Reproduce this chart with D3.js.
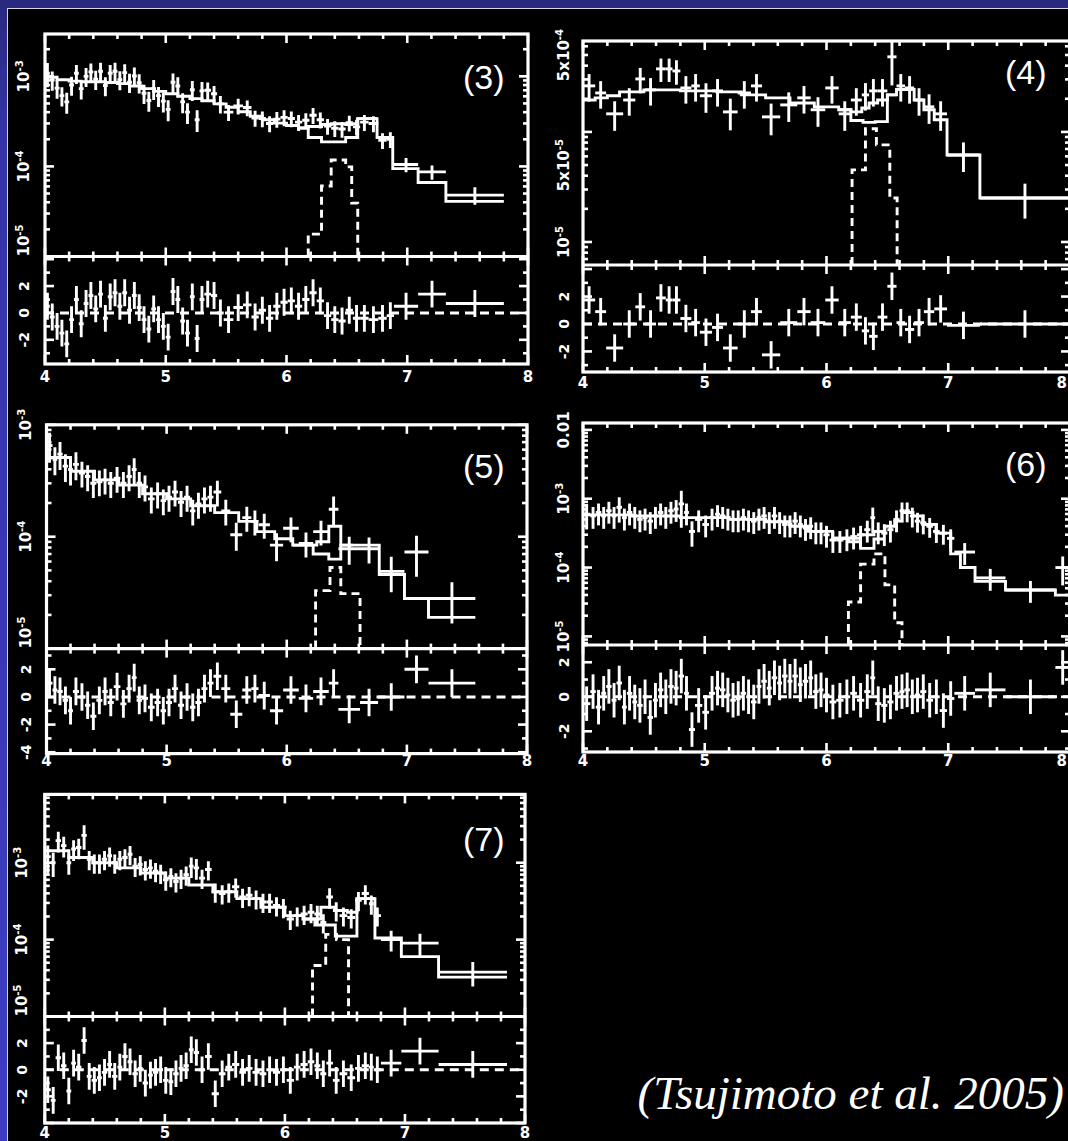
<!DOCTYPE html>
<html>
<head>
<meta charset="utf-8">
<script src="https://cdn.jsdelivr.net/npm/d3@7"></script>
<style>
  body { margin: 0; background: #000; }
  svg { display: block; }
</style>
</head>
<body>
<div id="plot_div"></div>
<script>
// fluxes in units of 1e-4 (counts/s/keV), energies in keV

// ---------- panel (3) ----------
const p3_edges = [4.00,4.04,4.08,4.12,4.16,4.20,4.24,4.28,4.32,4.36,4.40,4.44,4.48,4.52,4.56,4.60,4.64,4.68,4.72,4.76,4.80,4.84,4.88,4.92,4.96,5.00,5.04,5.08,5.12,5.16,5.20,5.24,5.28,5.32,
  5.375,5.425,5.48,5.56,5.64,5.71,5.77,5.83,5.89,5.95,6.01,6.07,6.13,6.19,6.25,6.31,6.37,6.43,6.49,6.55,6.61,6.68,6.76,6.83,6.89,7.09,7.32,7.80]
const p3_flux = [10.8,9.1,7.4,6.1,5.2,8.0,10.8,7.3,10.0,11.2, 9.3,11.4,7.9,10.8,11.4,9.2,11.0,8.6,10.1,8.5,
  6.5,5.4,7.3,6.1,5.3,4.3,8.6,7.8,5.2,4.0, 7.1,3.3,6.9, 7.0,6.4,4.95,4.0,4.7,4.5,3.45,3.4,3.0,3.35,
  3.5,3.4,3.1,3.25,3.7,3.3,2.8,2.65,2.6,3.05, 2.75,3.1,3.0,1.95,2.0,1.05,0.87,0.48]
const p3_err = [30,24,24,24,26,24,24,24,24,24, 24,24,24,24,24,24,24,24,24,24, 24,25,25,25,25,26,25,25,25,26,
  25,27,25, 22,22,22,20,20,20,20,20,20,20, 20,20,20,20,20,20,20,20,20,20, 20,20,20,20,20,18,18,22]
const p3_resid = [0.5,-0.3,-1.0,-1.5,-2.3,-0.5,1.0,-0.8,0.7,1.3, 0.3,1.4,-0.4,1.2,1.5,0.5,1.5,0.2,1.3,0.4,
  -0.5,-1.2,0.3,-0.5,-1.0,-1.8,1.6,1.0,-0.6,-1.5, 1.2,-1.9,1.0, 1.4,1.3,0.0,-0.5,0.4,0.6,-0.3,0.2,-0.4,0.5,
  0.8,0.9,0.5,1.0,1.5,0.9,-0.2,-0.5,-0.6,0.2, -0.4,-0.4,-0.5,-0.4,-0.2,0.5,1.4,0.7]
const p3_mEdges = [4.0,4.1,4.2,4.3,4.4,4.5,4.6,4.7,4.8,4.9,5.0,5.1,5.2,5.3,5.4,5.5,5.6,5.7,5.8,5.9,6.0,6.1,6.18,6.29,6.37,6.49,6.54,6.59,6.75,6.88,7.09,7.32,7.80]
const p3_model = [9.75,9.16,8.85,8.7,8.7,8.55,8.3,7.82,7.3,6.8,6.4,6.01,5.65,5.35,4.95,4.53,4.04,3.61,3.30,3.02,2.84,2.67,2.77,2.92,2.97,2.92,2.97,3.39,2.09,0.945,0.664,0.409]
const p3_cEdges = [6.1,6.18,6.29,6.49,6.59,6.75]
const p3_cont = [2.67,2.09,1.87,2.09,3.39]
const p3_gEdges = [6.18,6.29,6.37,6.49,6.54,6.59]
const p3_gauss = [0.177,0.607,1.18,0.987,0.391]
const p3_yrange = [0.1, 29.5]
const p3_rrange = [-3.8, 4.2]
const p3_yticks = [10, 1, 0.1]
const p3_ylabels = ["10^-3", "10^-4", "10^-5"]
const p3_rticks = [-2, 0, 2]

// ---------- panel (4) ----------
const p4_edges = [4.0,4.10,4.19,4.33,4.43,4.51,4.60,4.68,4.735,4.80,4.89,4.96,5.06,5.15,5.27,5.38,5.47,5.62,5.76,5.87,5.99,6.10,6.20,6.29,6.35,6.42,6.50,6.575,6.645,6.72,6.80,6.885,6.99,7.26,8.0]
const p4_flux = [2.62,2.26,1.46,1.95,3.03,2.41,3.74,3.74,3.58,2.51, 2.62,2.13,2.36,1.52,2.26,2.62,1.37,1.76,2.04,1.59,
  2.51,1.46,1.95,2.17,2.36,2.36,4.81,2.62,2.51,1.95, 1.69,1.46,0.617,0.251]
const p4_err = [28,28,30,28,26,28,24,24,25,28, 28,30,28,32,28,28,32,30,28,30, 28,30,28,28,28,28,45,28,28,28, 30,30,30,35]
const p4_resid = [1.75,0.9,-1.75,0,1.25,0,1.9,1.75,1.75,0.4, 0.1,-0.6,-0.25,-1.75,0,0.9,-2.25,0.1,0.9,0.1,
  1.75,0.1,0.5,-0.5,-0.9,0.5,2.75,0.1,-0.4,0.1, 0.9,1.1,-0.1,0]
const p4_mEdges = [4.0,4.1,4.2,4.3,4.5,4.8,5.1,5.3,5.5,5.7,5.9,6.1,6.2,6.29,6.35,6.42,6.50,6.575,6.72,6.80,6.885,6.99,7.26,8.0]
const p4_model = [1.95,2.04,2.13,2.31,2.41,2.36,2.31,2.17,2.04,1.83,1.69,1.59,1.52,1.65,1.83,1.95,2.17,2.43,1.95,1.59,1.29,0.617,0.251]
const p4_cEdges = [6.1,6.2,6.3,6.4,6.5,6.575]
const p4_cont = [1.59,1.27,1.22,1.24,2.17]
const p4_gEdges = [6.21,6.32,6.41,6.52,6.58]
const p4_gauss = [0.452,1.07,0.763,0.251]
const p4_yrange = [0.0618, 6.70]
const p4_rrange = [-3.5, 4.3]
const p4_yticks = [5, 0.5, 0.1]
const p4_ylabels = ["5x10^-4", "5x10^-5", "10^-5"]
const p4_rticks = [-2, 0, 2]

// ---------- panel (5) ----------
const p5_edges = [4.0,4.05,4.09,4.135,4.18,4.22,4.27,4.32,4.365,4.415,4.465,4.51,4.56,4.615,4.665,4.71,4.75,4.795,4.845,4.90,
  4.95,4.995,5.045,5.095,5.145,5.195,5.24,5.29,5.34,5.39,5.455,5.53,5.63,5.705,5.765,5.86,5.97,6.10,6.22,6.35,6.43,6.61,6.76,6.98,7.18,7.57]
const p5_flux = [6.54,4.92,5.47,4.27,3.98,4.43,3.71,3.45,3.00,3.10, 3.22,3.00,3.33,3.00,3.45,3.98,3.00,2.79,2.18,2.42,
  2.10,2.26,2.51,2.03,2.26,1.70,1.96,2.18,2.26,2.51, 1.70,1.04,1.48,1.37,1.28,0.84,1.19,0.87,1.11,1.76, 0.78,0.78,0.49,0.73,0.28]
const p5_err = [30,28,28,28,28,28,26,26,26,26, 26,26,26,26,26,26,26,26,26,26, 26,26,26,26,26,26,26,26,26,26,
  26,28,25,25,25,28,25,25,25,30, 28,26,35,40,40]
const p5_resid = [1.0,0.5,0.4,-0.25,-1.0,0.4,0,-0.6,-1.4,-0.25, 0.4,-0.4,0.75,-0.5,0.6,1.4,-0.25,-0.1,-0.75,-0.4,
  -1.0,-0.4,0.6,-0.6,0,-0.75,-0.4,0.6,1.0,1.5, 0.6,-1.25,0.5,0.6,0.1,-1.0,0.5,-0.1,0.4,1.0, -0.9,-0.4,0,2.0,1.0]
const p5_mEdges = [4.0,4.2,4.4,4.6,4.8,5.0,5.2,5.4,5.6,5.75,5.9,6.05,6.25,6.35,6.45,6.55,6.77,6.98,7.18,7.57]
const p5_model = [5.10,3.84,3.22,2.89,2.42,2.18,1.89,1.64,1.37,1.11,0.96,0.84,0.90,1.24,0.84,0.84,0.46,0.28,0.19]
const p5_cEdges = [6.05,6.22,6.35,6.45,6.55]
const p5_cont = [0.84,0.70,0.63,0.84]
const p5_gEdges = [6.24,6.36,6.45,6.61]
const p5_gauss = [0.33,0.53,0.31]
const p5_yrange = [0.1, 10]
const p5_rrange = [-4.1, 3.5]
const p5_yticks = [10, 1, 0.1]
const p5_ylabels = ["10^-3", "10^-4", "10^-5"]
const p5_rticks = [-4, -2, 0, 2]

// ---------- panel (6) ----------
const p6_edges = [4.0,4.06,4.105,4.15,4.19,4.235,4.275,4.32,4.36,4.405,4.445,4.49,4.53,4.575,4.615,4.66,4.70,4.745,4.785,4.83,
  4.87,4.92,4.98,5.035,5.085,5.125,5.17,5.21,5.255,5.295,5.34,5.38,5.425,5.465,5.51,5.55,5.595,5.635,5.68,5.72,
  5.765,5.805,5.85,5.89,5.935,5.975,6.025,6.08,6.14,6.195,6.25,6.31,6.36,6.40,6.45,6.50,6.55,6.60,6.64,6.685,
  6.725,6.77,6.82,6.875,6.93,6.99,7.05,7.22,7.47,7.88,8.0]
const p6_flux = [5.96,5.62,6.31,5.62,6.68,5.62,7.50,5.31,6.31,5.62, 5.01,5.31,4.73,5.62,6.31,5.62,6.68,7.08,8.41,6.31,
  3.35,5.01,4.22,5.31,5.96,5.62,5.31,5.01,5.01,5.31, 5.01,4.73,5.31,5.62,4.73,5.62,4.73,4.22,4.22,4.73,
  4.22,3.76,3.98,3.35,3.35,2.99,2.51,2.51,2.66,2.82, 2.99,3.55,5.31,3.35,3.16,3.55,5.01,6.68,6.68,5.62,
  4.73,4.47,3.98,3.35,3.16,2.66,1.68,0.708,0.473,1.0]
const p6_err = [40,35,35,35,35,35,40,35,35,35, 35,35,35,35,35,35,35,35,55,35, 40,35,35,35,35,35,35,35,35,35,
  35,35,35,35,35,35,35,35,35,35, 35,35,35,35,35,35,35,35,35,35, 35,35,40,35,35,35,35,32,32,32,
  32,32,32,32,32,35,35,35,35,45]
const p6_resid = [-0.4,0.3,-0.6,0.2,0.6,-0.2,0.8,-0.6,0.2,-0.3, -0.5,0.0,-1.2,-0.2,0.4,0.0,0.6,0.5,1.2,0.2,
  -1.9,-0.5,-0.9,0.2,0.5,0.4,0.1,-0.2,-0.1,0.2, 0.0,-0.3,0.6,0.9,0.5,1.1,0.8,1.2,0.9,1.2,
  0.7,0.9,1.1,0.3,0.4,0.1,-0.3,-0.2,0.0,0.2, -0.2,0.3,1.1,-0.4,-0.5,-0.3,0.2,0.3,0.4,0.0,
  0.1,0.3,-0.2,0.0,-0.8,-0.1,0.2,0.4,0.0,1.7]
const p6_mEdges = [4.0,4.4,4.8,5.2,5.5,5.7,5.85,6.05,6.28,6.39,6.48,6.56,6.62,6.71,6.79,6.90,7.02,7.10,7.22,7.47,7.88,8.0]
const p6_model = [5.82,5.62,5.31,5.01,4.62,3.98,3.35,2.66,2.99,3.35,3.98,4.73,6.31,5.62,4.22,3.16,1.58,1.0,0.63,0.473,0.398]
const p6_cEdges = [6.05,6.18,6.28,6.39,6.48]
const p6_cont = [2.66,2.37,1.9,2.6]
const p6_gEdges = [6.18,6.28,6.39,6.48,6.56,6.62]
const p6_gauss = [0.316,1.12,1.58,0.56,0.158]
const p6_yrange = [0.075, 125.9]
const p6_rrange = [-3.2, 3.0]
const p6_yticks = [100, 10, 1, 0.1]
const p6_ylabels = ["0.01", "10^-3", "10^-4", "10^-5"]
const p6_rticks = [-2, 0, 2]

// ---------- panel (7) ----------
const p7_edges = [4.0,4.05,4.09,4.135,4.18,4.22,4.26,4.305,4.35,4.39,4.435,4.475,4.52,4.56,4.605,4.645,4.69,4.73,4.775,4.815,
  4.86,4.90,4.945,4.985,5.03,5.07,5.115,5.155,5.20,5.24,5.285,5.335,5.39,5.45,5.505,5.56,5.62,5.675,5.73,5.79,
  5.845,5.90,5.96,6.015,6.075,6.13,6.19,6.245,6.295,6.345,6.40,6.455,6.52,6.585,6.64,6.70,6.74,6.80,6.97,7.28,7.85]
const p7_flux = [12.0,10.0,19.4,16.7,10.0,15.1,15.8,22.7,11.1,10.0, 10.0,11.1,12.3,10.0,11.1,11.7,12.9,9.03,9.5,8.15,
  8.58,7.74,7.35,5.99,6.64,5.69,6.31,6.98,9.03,8.58, 6.31,8.15,4.19,3.98,4.19,4.88,3.59,3.78,3.41,3.08,
  3.08,2.78,2.64,1.85,2.05,2.15,2.27,2.15,1.67,3.59, 2.39,2.05,1.94,3.24,3.98,2.93,2.05,1.0,0.90,0.378]
const p7_err = [40,35,30,30,30,30,30,35,28,28, 28,28,28,28,28,28,28,28,28,28, 28,28,28,28,28,28,28,28,30,30,
  28,28,28,28,28,28,28,28,28,28, 28,28,28,28,28,28,28,28,28,30, 28,28,28,28,28,28,28,30,32,35]
const p7_resid = [-1.5,-2.3,0.9,0.3,-1.6,0.5,0.2,2.2,-0.5,-0.8, -0.6,-0.2,0.4,-0.5,0.2,1.0,0.6,-0.3,0.1,-1.0,
  -0.4,-0.2,0.0,-0.8,-0.9,-0.3,0.1,0.3,1.5,1.3, 0.0,1.0,-1.8,-0.3,0.2,0.4,-0.2,0.1,-0.2,-0.3,
  0.0,-0.2,0.0,-0.8,0.2,0.4,0.6,0.3,-0.3,0.5, -0.8,-0.3,-0.6,0.1,0.3,0.2,0.0,0.5,1.4,0.4]
const p7_mEdges = [4.0,4.2,4.4,4.6,4.8,5.0,5.2,5.4,5.6,5.8,6.0,6.15,6.3,6.42,6.52,6.6,6.75,6.97,7.28,7.85]
const p7_model = [14.3,11.7,10.0,8.58,7.35,6.31,5.14,4.19,3.41,2.64,2.05,1.85,2.64,2.39,2.27,3.41,1.05,0.60,0.325]
const p7_cEdges = [6.15,6.25,6.42,6.6,6.75]
const p7_cont = [1.85,1.55,1.11,3.41]
const p7_gEdges = [6.23,6.34,6.43,6.53]
const p7_gauss = [0.46,1.17,1.0]
const p7_yrange = [0.1, 77.4]
const p7_rrange = [-4, 4]
const p7_yticks = [10, 1, 0.1]
const p7_ylabels = ["10^-3", "10^-4", "10^-5"]
const p7_rticks = [-2, 0, 2]

const xTickLabels = [4, 5, 6, 7, 8]
const citation = "(Tsujimoto et al. 2005)"

// ---------- layout ----------
const width = 1068, height = 1141
const lw = 2.9

const panels = [
  {tag:"(3)", x0:45,   x1:528,  top:34,    div:256.5,  bot:364,  labX:24,  xLabY:377,  tagX:504.5,  tagY:89,
   yDom:p3_yrange, rDom:p3_rrange, yTicks:p3_yticks, yLabels:p3_ylabels, rTicks:p3_rticks,
   edges:p3_edges, flux:p3_flux, err:p3_err, resid:p3_resid, mE:p3_mEdges, model:p3_model,
   cE:p3_cEdges, cont:p3_cont, gE:p3_gEdges, gauss:p3_gauss},
  {tag:"(4)", x0:583,  x1:1070, top:41,    div:265,    bot:372,  labX:564, xLabY:383,  tagX:1046.5, tagY:84,
   yDom:p4_yrange, rDom:p4_rrange, yTicks:p4_yticks, yLabels:p4_ylabels, rTicks:p4_rticks,
   edges:p4_edges, flux:p4_flux, err:p4_err, resid:p4_resid, mE:p4_mEdges, model:p4_model,
   cE:p4_cEdges, cont:p4_cont, gE:p4_gEdges, gauss:p4_gauss},
  {tag:"(5)", x0:46.5, x1:527,  top:424.8, div:648.6,  bot:753.6, labX:26, xLabY:761,  tagX:504.5,  tagY:478,
   yDom:p5_yrange, rDom:p5_rrange, yTicks:p5_yticks, yLabels:p5_ylabels, rTicks:p5_rticks,
   edges:p5_edges, flux:p5_flux, err:p5_err, resid:p5_resid, mE:p5_mEdges, model:p5_model,
   cE:p5_cEdges, cont:p5_cont, gE:p5_gEdges, gauss:p5_gauss},
  {tag:"(6)", x0:583,  x1:1070, top:423,   div:645,    bot:752,  labX:564, xLabY:761,  tagX:1046.5, tagY:476,
   yDom:p6_yrange, rDom:p6_rrange, yTicks:p6_yticks, yLabels:p6_ylabels, rTicks:p6_rticks,
   edges:p6_edges, flux:p6_flux, err:p6_err, resid:p6_resid, mE:p6_mEdges, model:p6_model,
   cE:p6_cEdges, cont:p6_cont, gE:p6_gEdges, gauss:p6_gauss},
  {tag:"(7)", x0:44.8, x1:525,  top:794.4, div:1016.5, bot:1123, labX:22,  xLabY:1133, tagX:504.5,  tagY:851,
   yDom:p7_yrange, rDom:p7_rrange, yTicks:p7_yticks, yLabels:p7_ylabels, rTicks:p7_rticks,
   edges:p7_edges, flux:p7_flux, err:p7_err, resid:p7_resid, mE:p7_mEdges, model:p7_model,
   cE:p7_cEdges, cont:p7_cont, gE:p7_gEdges, gauss:p7_gauss}
]

const svg = d3.create("svg")
    .attr("width", width)
    .attr("height", height)
    .attr("viewBox", [0, 0, width, height])

const defs = svg.append("defs")
const grad = defs.append("linearGradient").attr("id", "bg")
    .attr("x1", 0).attr("y1", 0).attr("x2", 0).attr("y2", 1)
grad.append("stop").attr("offset", "0%").attr("stop-color", "#29297f")
grad.append("stop").attr("offset", "12%").attr("stop-color", "#3434a8")
grad.append("stop").attr("offset", "100%").attr("stop-color", "#3d3dc4")

// slide background: blue border, thin light rule, black field
svg.append("rect").attr("width", width).attr("height", height).attr("fill", "url(#bg)")
svg.append("rect").attr("x", 7).attr("y", 8).attr("width", width).attr("height", height).attr("fill", "#d4d4e0")
svg.append("rect").attr("x", 8).attr("y", 9).attr("width", width).attr("height", height).attr("fill", "#000")

function supText(sel, s){
    const parts = s.split("^")
    sel.append("tspan").text(parts[0])
    if (parts[1]) sel.append("tspan").attr("dy", "-0.45em").attr("font-size", "0.68em").text(parts[1])
}

function drawPanel(p, k){
    const x = d3.scaleLinear().domain([4, 8]).range([p.x0, p.x1])
    const y = d3.scaleLog().domain(p.yDom).range([p.div, p.top])
    const r = d3.scaleLinear().domain(p.rDom).range([p.bot, p.div])

    defs.append("clipPath").attr("id", "cu" + k).append("rect")
        .attr("x", p.x0).attr("y", p.top).attr("width", p.x1 - p.x0).attr("height", p.div - p.top)
    defs.append("clipPath").attr("id", "cl" + k).append("rect")
        .attr("x", p.x0).attr("y", p.div).attr("width", p.x1 - p.x0).attr("height", p.bot - p.div)

    const g = svg.append("g").attr("stroke", "#fff").attr("fill", "none").attr("stroke-width", lw)
    const gu = g.append("g").attr("clip-path", `url(#cu${k})`)
    const gl = g.append("g").attr("clip-path", `url(#cl${k})`)

    const bins = d3.range(p.flux.length).map(i => ({
        lo: p.edges[i], hi: p.edges[i + 1], v: p.flux[i],
        e: p.flux[i] * p.err[i] / 100, res: p.resid[i]
    }))
    const lowY = p.yDom[0]

    // data crosses
    gu.selectAll("line.dh").data(bins).join("line").attr("class", "dh")
        .attr("x1", d => x(d.lo)).attr("x2", d => x(d.hi))
        .attr("y1", d => y(d.v)).attr("y2", d => y(d.v))
    gu.selectAll("line.dv").data(bins).join("line").attr("class", "dv")
        .attr("x1", d => x((d.lo + d.hi) / 2)).attr("x2", d => x((d.lo + d.hi) / 2))
        .attr("y1", d => y(Math.max(d.v - d.e, lowY))).attr("y2", d => y(d.v + d.e))

    // model steps
    const step = d3.line().x(d => x(d[0])).y(d => y(d[1])).curve(d3.curveStepAfter)
    const stepPts = (edges, vals) => edges.map((e, i) => [e, vals[Math.min(i, vals.length - 1)]])
    gu.append("path").attr("d", step(stepPts(p.mE, p.model)))
    gu.append("path").attr("d", step(stepPts(p.cE, p.cont)))

    // iron line component (dashed), dropping to the axis at both ends
    const gPts = [[p.gE[0], lowY]].concat(stepPts(p.gE, p.gauss), [[p.gE[p.gE.length - 1], lowY]])
    gu.append("path").attr("d", step(gPts)).attr("stroke-dasharray", "8,5")

    // residuals
    gl.append("line").attr("x1", p.x0).attr("x2", p.x1).attr("y1", r(0)).attr("y2", r(0))
        .attr("stroke-dasharray", "9,6")
    gl.selectAll("line.rh").data(bins).join("line").attr("class", "rh")
        .attr("x1", d => x(d.lo)).attr("x2", d => x(d.hi))
        .attr("y1", d => r(d.res)).attr("y2", d => r(d.res))
    gl.selectAll("line.rv").data(bins).join("line").attr("class", "rv")
        .attr("x1", d => x((d.lo + d.hi) / 2)).attr("x2", d => x((d.lo + d.hi) / 2))
        .attr("y1", d => r(d.res - 1)).attr("y2", d => r(d.res + 1))

    // frames
    g.append("rect").attr("x", p.x0).attr("y", p.top)
        .attr("width", p.x1 - p.x0).attr("height", p.bot - p.top).attr("stroke-width", 3.2)
    g.append("line").attr("x1", p.x0).attr("x2", p.x1).attr("y1", p.div).attr("y2", p.div).attr("stroke-width", 3.2)

    // x ticks: top, both sides of the divider, bottom
    const tk = g.append("g").attr("stroke-width", 2.6)
    x.ticks(20).forEach(t => {
        const len = Math.abs(t - Math.round(t)) < 1e-6 ? 9 : 5
        tk.append("line").attr("x1", x(t)).attr("x2", x(t)).attr("y1", p.top).attr("y2", p.top + len)
        tk.append("line").attr("x1", x(t)).attr("x2", x(t)).attr("y1", p.div - len).attr("y2", p.div + len)
        tk.append("line").attr("x1", x(t)).attr("x2", x(t)).attr("y1", p.bot).attr("y2", p.bot - len)
    })
    // log y ticks
    y.ticks().forEach(t => {
        const lg = Math.log10(t)
        const len = Math.abs(lg - Math.round(lg)) < 1e-6 ? 9 : 5
        tk.append("line").attr("x1", p.x0).attr("x2", p.x0 + len).attr("y1", y(t)).attr("y2", y(t))
        tk.append("line").attr("x1", p.x1).attr("x2", p.x1 - len).attr("y1", y(t)).attr("y2", y(t))
    })
    // residual ticks
    d3.range(Math.ceil(p.rDom[0]), Math.floor(p.rDom[1]) + 1).forEach(t => {
        const len = t % 2 === 0 ? 9 : 5
        tk.append("line").attr("x1", p.x0).attr("x2", p.x0 + len).attr("y1", r(t)).attr("y2", r(t))
        tk.append("line").attr("x1", p.x1).attr("x2", p.x1 - len).attr("y1", r(t)).attr("y2", r(t))
    })

    // labels
    const lab = svg.append("g").attr("fill", "#fff")
        .attr("font-family", "DejaVu Sans, sans-serif").attr("font-weight", "bold")
    xTickLabels.forEach(v => {
        const xx = x(v)
        const overflow = xx + 6 > width
        lab.append("text").attr("x", overflow ? width - 1 : xx).attr("y", p.xLabY)
            .attr("text-anchor", overflow ? "end" : "middle").attr("dominant-baseline", "central")
            .attr("font-size", 15).text(v)
    })
    p.yTicks.forEach((v, i) => {
        const yy = y(v)
        const t = lab.append("text")
            .attr("transform", `translate(${p.labX},${yy}) rotate(-90)`)
            .attr("text-anchor", Math.abs(yy - p.div) < 1 ? "start" : "middle")
            .attr("dominant-baseline", "central").attr("font-size", 15)
        supText(t, p.yLabels[i])
    })
    p.rTicks.forEach(v => {
        lab.append("text")
            .attr("transform", `translate(${p.labX},${r(v)}) rotate(-90)`)
            .attr("text-anchor", "middle").attr("dominant-baseline", "central")
            .attr("font-size", 14).text(v)
    })

    svg.append("text").attr("x", p.tagX).attr("y", p.tagY)
        .attr("text-anchor", "end").attr("fill", "#fff")
        .attr("font-family", "Liberation Sans, Arial, sans-serif").attr("font-size", 34)
        .text(p.tag)
}

panels.forEach(drawPanel)

svg.append("text").attr("x", 1064).attr("y", 1109)
    .attr("text-anchor", "end")
    .attr("fill", "#fff").attr("font-family", "Liberation Serif, Times New Roman, serif")
    .attr("font-style", "italic").attr("font-size", 47)
    .text(citation)

document.getElementById("plot_div").append(svg.node())
</script>
</body>
</html>
